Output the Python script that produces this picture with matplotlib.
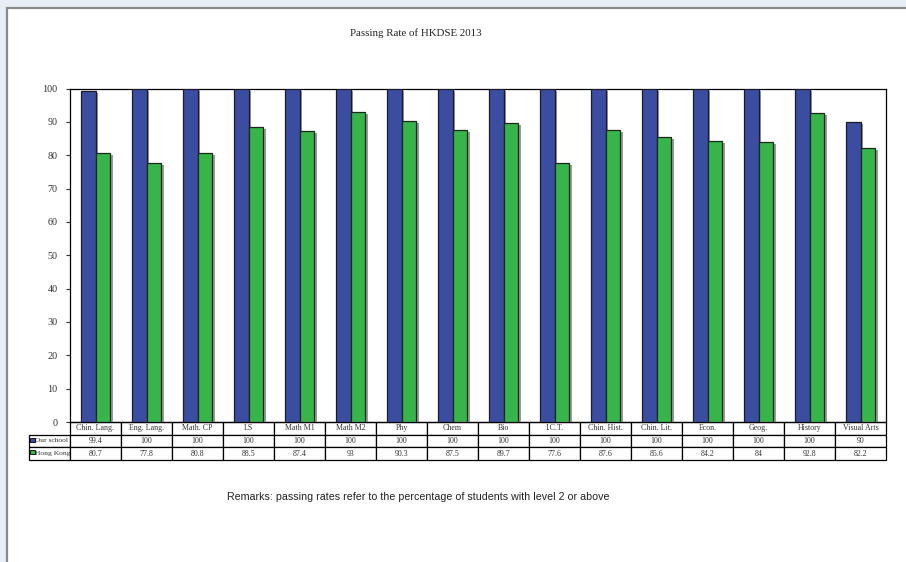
import numpy as np
import matplotlib
matplotlib.use("Agg")
import matplotlib.pyplot as plt
import matplotlib.patheffects as pe
from matplotlib.patches import Rectangle

# datos del grafico
subjects = ["Chin. Lang.", "Eng. Lang.", "Math. CP", "LS", "Math M1", "Math M2", "Phy", "Chem",
            "Bio", "I.C.T.", "Chin. Hist.", "Chin. Lit.", "Econ.", "Geog.", "History", "Visual Arts"]
our_school = [99.4, 100, 100, 100, 100, 100, 100, 100, 100, 100, 100, 100, 100, 100, 100, 90]
hong_kong = [80.7, 77.8, 80.8, 88.5, 87.4, 93, 90.3, 87.5, 89.7, 77.6, 87.6, 85.6, 84.2, 84, 92.8, 82.2]
series_names = ["Our school", "Hong Kong"]

blue = "#3A4DA1"
green = "#37B44A"
serif = ["Liberation Serif", "DejaVu Serif"]
fs_tabla = 5.7

fig = plt.figure(figsize=(9.06, 5.62), dpi=100)
fig.patch.set_facecolor("#E8EEF5")
# hoja blanca con borde gris
hoja = Rectangle((7 / 906, -0.05), 1.0, (562 - 8) / 562 + 0.05, transform=fig.transFigure,
                 facecolor="white", edgecolor="#8A8A8A", linewidth=1.6, zorder=-5)
fig.patches.append(hoja)

ax = fig.add_axes([70 / 906, (562 - 422) / 562, 816 / 906, (422 - 88.5) / 562])
ax.set_zorder(2)
ax.set_facecolor("white")
x = np.arange(len(subjects))
w = 0.29
shadow = [pe.SimplePatchShadow(offset=(1.8, -1.6), shadow_rgbFace="#888888", alpha=0.85), pe.Normal()]
ax.bar(x - w / 2, our_school, w, color=blue, edgecolor="#1A1A2A", linewidth=0.9, path_effects=shadow, zorder=3)
ax.bar(x + w / 2, hong_kong, w, color=green, edgecolor="#1A2A1A", linewidth=0.9, path_effects=shadow, zorder=3)

ax.set_xlim(-0.5, len(subjects) - 0.5)
ax.set_ylim(0, 100)
ax.set_yticks(range(0, 101, 10))
ax.set_xticks([])
ax.tick_params(axis="y", length=3, width=0.8, pad=6, labelsize=7.3, colors="#333333")
for lab in ax.get_yticklabels():
    lab.set_family(serif)
for s in ax.spines.values():
    s.set_color("black")
    s.set_linewidth(0.9)

# tabla de datos bajo el grafico
axh = 333.5
rows = [[""] + ["{:g}".format(v) for v in our_school],
        [""] + ["{:g}".format(v) for v in hong_kong]]
total_w = 886 - 29
col_w = [41 / total_w] + [51 / total_w] * len(subjects)
tab = ax.table(cellText=rows, colLabels=[""] + subjects, colWidths=col_w, cellLoc="center",
               bbox=[-41 / 816, -38 / axh, total_w / 816, 38 / axh])
tab.set_clip_on(False)
tab.auto_set_font_size(False)
tab.set_fontsize(fs_tabla)
for (r, c), cell in tab.get_celld().items():
    cell.set_linewidth(0.9)
    cell.get_text().set_family(serif)
    cell.get_text().set_color("#333333")
    if r == 0 and c == 0:
        cell.visible_edges = ""

# etiquetas de fila con cuadritos de leyenda
for i, (name, col) in enumerate(zip(series_names, [blue, green])):
    yc = (-12.7 - 12.7 * i - 6.3) / axh
    ax.add_patch(Rectangle((-39.5 / 816, yc - 0.5 / axh), 4 / 816, 4 / axh, transform=ax.transAxes,
                           facecolor=col, edgecolor="black", linewidth=0.6, clip_on=False, zorder=5))
    ax.text(-34.5 / 816, yc, name, transform=ax.transAxes, ha="left", va="center",
            fontsize=fs_tabla - 0.3, family=serif, color="#333333", clip_on=False)

fig.text(416 / 906, 1 - 33 / 562, "Passing Rate of HKDSE 2013", ha="center", va="center",
         fontsize=7.8, family=serif, color="#222222")
fig.text(418 / 906, 1 - 497 / 562, "Remarks: passing rates refer to the percentage of students with level 2 or above",
         ha="center", va="center", fontsize=7.7, family=["Liberation Sans", "DejaVu Sans"], color="#222222")

fig.savefig("out.png", dpi=100, facecolor=fig.get_facecolor())
